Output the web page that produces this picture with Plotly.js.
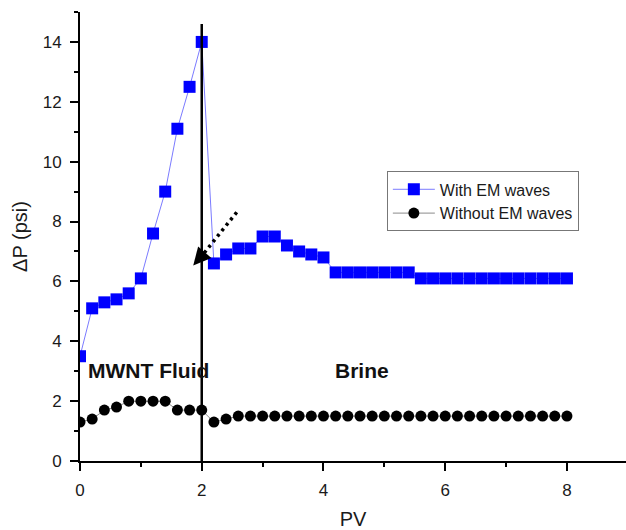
<!DOCTYPE html>
<html>
<head>
<meta charset="utf-8">
<script src="https://cdn.plot.ly/plotly-3.0.1.min.js"></script>
<style>html,body{margin:0;padding:0;background:#fff;} #chart{width:626px;height:530px;}</style>
</head>
<body>
<div id="chart"></div>
<script>
// Pore volumes injected
const pvWith = [0, 0.2, 0.4, 0.6, 0.8, 1.0, 1.2, 1.4, 1.6, 1.8, 2.0,
  2.2, 2.4, 2.6, 2.8, 3.0, 3.2, 3.4, 3.6, 3.8, 4.0,
  4.2, 4.4, 4.6, 4.8, 5.0, 5.2, 5.4, 5.6, 5.8, 6.0,
  6.2, 6.4, 6.6, 6.8, 7.0, 7.2, 7.4, 7.6, 7.8, 8.0];
// Pressure drop (psi) with EM waves
const dpWith = [3.5, 5.1, 5.3, 5.4, 5.6, 6.1, 7.6, 9.0, 11.1, 12.5, 14.0,
  6.6, 6.9, 7.1, 7.1, 7.5, 7.5, 7.2, 7.0, 6.9, 6.8,
  6.3, 6.3, 6.3, 6.3, 6.3, 6.3, 6.3, 6.1, 6.1, 6.1,
  6.1, 6.1, 6.1, 6.1, 6.1, 6.1, 6.1, 6.1, 6.1, 6.1];
const pvWithout = pvWith;
// Pressure drop (psi) without EM waves
const dpWithout = [1.3, 1.4, 1.7, 1.8, 2.0, 2.0, 2.0, 2.0, 1.7, 1.7, 1.7,
  1.3, 1.4, 1.5, 1.5, 1.5, 1.5, 1.5, 1.5, 1.5, 1.5,
  1.5, 1.5, 1.5, 1.5, 1.5, 1.5, 1.5, 1.5, 1.5, 1.5,
  1.5, 1.5, 1.5, 1.5, 1.5, 1.5, 1.5, 1.5, 1.5, 1.5];
const seriesNames = ["With EM waves", "Without EM waves"];
const regionLabels = ["MWNT Fluid", "Brine"];
const regionX = [0.1, 4.64];
const regionY = [3.02, 3.02];
const boundaryPV = 2;
const boundaryTop = 14.6;
const arrowTail = [2.575, 8.31];
const arrowBase = [2.04, 6.95];
const arrowTip = [1.86, 6.53];
const xTicks = [0, 2, 4, 6, 8];
const yTicks = [0, 2, 4, 6, 8, 10, 12, 14];

const font = "Arial, 'Liberation Sans', sans-serif";

const traces = [
  {
    x: pvWith, y: dpWith, name: seriesNames[0], type: "scatter", mode: "lines+markers",
    line: {color: "#7b7bff", width: 1},
    marker: {symbol: "square", size: 12, color: "#0000ff", line: {width: 0}}
  },
  {
    x: pvWithout, y: dpWithout, name: seriesNames[1], type: "scatter", mode: "lines+markers",
    line: {color: "#8a8a8a", width: 1},
    marker: {symbol: "circle", size: 11, color: "#000000", line: {width: 0}}
  }
];

const layout = {
  width: 626, height: 530,
  margin: {l: 80, r: 0, t: 11.5, b: 68.5},
  paper_bgcolor: "#ffffff", plot_bgcolor: "#ffffff",
  font: {family: font, color: "#1a1a1a"},
  showlegend: true,
  legend: {
    x: 0.562, y: 0.645, xanchor: "left", yanchor: "top",
    bgcolor: "#ffffff", bordercolor: "#777777", borderwidth: 1,
    font: {size: 16, family: font, color: "#1a1a1a"},
    itemwidth: 42, tracegroupgap: 0
  },
  xaxis: {
    range: [0, 8.97], tickvals: xTicks, showgrid: false, zeroline: false,
    showline: true, linecolor: "#000", linewidth: 2,
    ticks: "outside", ticklen: 8, tickwidth: 2, tickcolor: "#000",
    ticklabelstandoff: 5,
    minor: {dtick: 1, ticks: "outside", ticklen: 4, tickwidth: 2, tickcolor: "#000"},
    tickfont: {size: 17, family: font, color: "#1a1a1a"},
    title: {text: "PV", font: {size: 20, family: font, color: "#1a1a1a"}, standoff: 14}
  },
  yaxis: {
    range: [0, 15], tickvals: yTicks, showgrid: false, zeroline: false,
    showline: true, linecolor: "#000", linewidth: 2,
    ticks: "outside", ticklen: 8, tickwidth: 2, tickcolor: "#000",
    ticklabelstandoff: 5,
    minor: {dtick: 1, ticks: "outside", ticklen: 4, tickwidth: 2, tickcolor: "#000"},
    tickfont: {size: 17, family: font, color: "#1a1a1a"},
    title: {text: "ΔP (psi)", font: {size: 20, family: font, color: "#1a1a1a"}, standoff: 10}
  },
  shapes: [
    {type: "line", xref: "x", yref: "y", x0: boundaryPV, x1: boundaryPV, y0: 0, y1: boundaryTop,
     line: {color: "#000", width: 2.5}},
    {type: "line", xref: "x", yref: "y", x0: arrowTail[0], y0: arrowTail[1], x1: arrowBase[0], y1: arrowBase[1],
     line: {color: "#000", width: 3.5, dash: "3px,4px"}}
  ],
  annotations: [
    {x: regionX[0], y: regionY[0], xref: "x", yref: "y", text: "<b>" + regionLabels[0] + "</b>",
     showarrow: false, xanchor: "left", yanchor: "middle", font: {size: 21, family: font, color: "#111"}},
    {x: regionX[1], y: regionY[1], xref: "x", yref: "y", text: "<b>" + regionLabels[1] + "</b>",
     showarrow: false, xanchor: "center", yanchor: "middle", font: {size: 21, family: font, color: "#111"}},
    {x: arrowTip[0], y: arrowTip[1], xref: "x", yref: "y", axref: "x", ayref: "y",
     ax: arrowBase[0], ay: arrowBase[1], text: "", showarrow: true,
     arrowhead: 2, arrowsize: 1.6, arrowwidth: 2.2, arrowcolor: "#000"}
  ]
};

Plotly.newPlot("chart", traces, layout, {staticPlot: true, displayModeBar: false});
</script>
</body>
</html>
